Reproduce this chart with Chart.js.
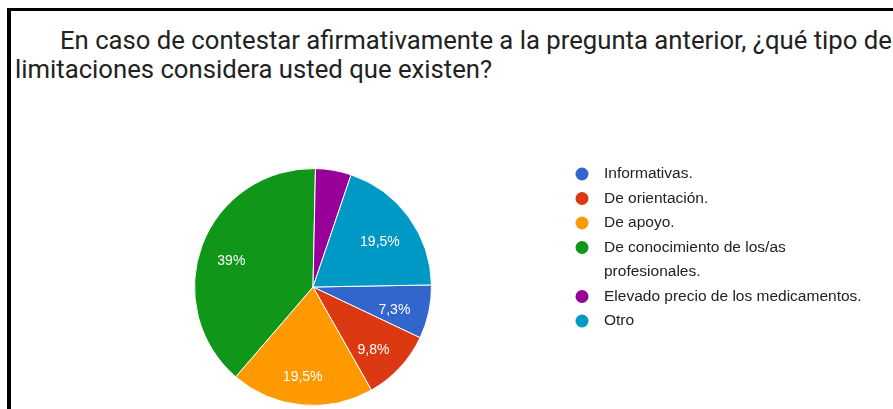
<!DOCTYPE html>
<html>
<head>
<meta charset="utf-8">
<script src="https://cdn.jsdelivr.net/npm/chart.js@4"></script>
<style>
  html, body { margin: 0; padding: 0; background: #fff; overflow: hidden; }
  #frame {
    position: absolute; left: 7px; top: 8px; width: 920px; height: 440px;
    border-left: 4px solid #000; border-top: 3px solid #000;
  }
  .title {
    position: absolute; font-family: Roboto, Arial, sans-serif; font-size: 25.7px;
    line-height: 28px; color: #222; white-space: nowrap;
  }
  #chart { position: absolute; left: 0; top: 0; }
</style>
</head>
<body>
<div id="frame"></div>
<div class="title" style="left:60px; top:26px;">En caso de contestar afirmativamente a la pregunta anterior, ¿qué tipo de</div>
<div class="title" style="left:15px; top:55px;">limitaciones considera usted que existen?</div>
<canvas id="chart" width="893" height="409"></canvas>
<script>
// Datos (41 respuestas)
const categorias = [
    'Informativas.',
    'De orientación.',
    'De apoyo.',
    'De conocimiento de los/as profesionales.',
    'Elevado precio de los medicamentos.',
    'Otro'
];
const respuestas = [3, 4, 8, 16, 2, 8];
const colores = ['#3366cc', '#dc3912', '#ff9900', '#109618', '#990099', '#0099c6'];

function formatoPct(v, total) {
    let s = (v / total * 100).toFixed(1);
    if (s.endsWith('.0')) s = s.slice(0, -2);
    return s.replace('.', ',') + '%';
}

// Etiquetas de porcentaje dentro de cada sector
const etiquetasPlugin = {
    id: 'etiquetas',
    afterDatasetsDraw(chart) {
        const ctx = chart.ctx;
        const meta = chart.getDatasetMeta(0);
        const total = respuestas.reduce((a, b) => a + b, 0);
        ctx.save();
        ctx.font = '14px Arial, "Liberation Sans", sans-serif';
        ctx.fillStyle = '#fff';
        ctx.textAlign = 'center';
        ctx.textBaseline = 'middle';
        meta.data.forEach((arc, i) => {
            if (respuestas[i] / total < 0.05) return;
            const a = (arc.startAngle + arc.endAngle) / 2;
            const r = arc.outerRadius * 0.72;
            ctx.fillText(formatoPct(respuestas[i], total),
                arc.x - 2 + Math.cos(a) * r, arc.y + 5 + Math.sin(a) * r);
        });
        ctx.restore();
    }
};

// Leyenda a la derecha, con salto de línea
const leyendaPlugin = {
    id: 'leyenda',
    afterDraw(chart) {
        const ctx = chart.ctx;
        const x = 582, textX = 604, maxW = 268, lineH = 24.5;
        let y = 174;
        ctx.save();
        ctx.font = '15.5px Arial, "Liberation Sans", sans-serif';
        ctx.textBaseline = 'middle';
        categorias.forEach((cat, i) => {
            ctx.fillStyle = colores[i];
            ctx.beginPath();
            ctx.arc(x, y, 6.5, 0, Math.PI * 2);
            ctx.fill();
            // partir en líneas
            const palabras = cat.split(' ');
            const lineas = [];
            let actual = '';
            palabras.forEach(p => {
                const prueba = actual ? actual + ' ' + p : p;
                if (ctx.measureText(prueba).width > maxW && actual) {
                    lineas.push(actual);
                    actual = p;
                } else {
                    actual = prueba;
                }
            });
            lineas.push(actual);
            ctx.fillStyle = '#222';
            lineas.forEach(l => {
                ctx.fillText(l, textX, y);
                y += lineH;
            });
        });
        ctx.restore();
    }
};

new Chart(document.getElementById('chart'), {
    type: 'pie',
    data: {
        labels: categorias,
        datasets: [{
            data: respuestas,
            backgroundColor: colores,
            borderColor: '#fff',
            borderWidth: 1
        }]
    },
    options: {
        responsive: false,
        animation: false,
        rotation: 89,
        layout: { padding: { left: 194, right: 461, top: 168, bottom: 3 } },
        plugins: {
            legend: { display: false },
            tooltip: { enabled: false }
        }
    },
    plugins: [etiquetasPlugin, leyendaPlugin]
});
</script>
</body>
</html>
